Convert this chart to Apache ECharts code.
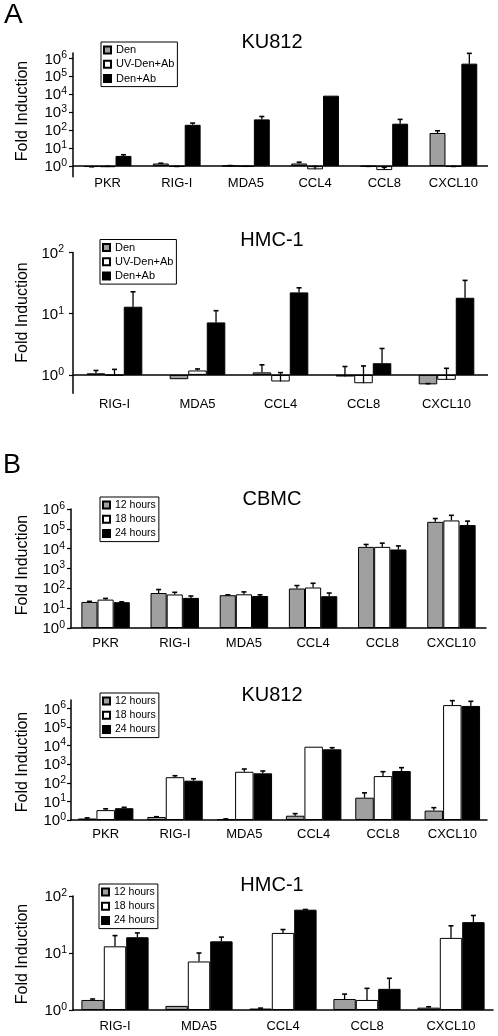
<!DOCTYPE html>
<html>
<head>
<meta charset="utf-8">
<script src="https://cdn.jsdelivr.net/npm/echarts@6/dist/echarts.min.js"></script>
<style>html,body{margin:0;padding:0;background:#fff}#c{width:498px;height:1036px}</style>
</head>
<body>
<div id="c"></div>
<script>
// ---------- DATA ----------
const catsA1 = ['PKR', 'RIG-I', 'MDA5', 'CCL4', 'CCL8', 'CXCL10'];
const catsA2 = ['RIG-I', 'MDA5', 'CCL4', 'CCL8', 'CXCL10'];
const catsB1 = ['PKR', 'RIG-I', 'MDA5', 'CCL4', 'CCL8', 'CXCL10'];
const catsB2 = ['PKR', 'RIG-I', 'MDA5', 'CCL4', 'CCL8', 'CXCL10'];
const catsB3 = ['RIG-I', 'MDA5', 'CCL4', 'CCL8', 'CXCL10'];
const namesA = ['Den', 'UV-Den+Ab', 'Den+Ab'];
const namesB = ['12 hours', '18 hours', '24 hours'];
const yTicksA1 = [1, 10, 100, 1000, 10000, 100000, 1000000];
const yTicksA2 = [1, 10, 100];
const yTicksB1 = [1, 10, 100, 1000, 10000, 100000, 1000000];
const yTicksB2 = [1, 10, 100, 1000, 10000, 100000, 1000000];
const yTicksB3 = [1, 10, 100];

// A: KU812
const a1Den      = [0.9, 1.4, 1.05, 1.4, 0.95, 70];
const a1DenErr   = [0.02, 0.05, 0.02, 0.26, 0.02, 23];
const a1UV       = [0.88, 0.93, 0.95, 0.66, 0.6, 0.93];
const a1UVErr    = [0.1, 0.03, 0.03, 0.3, 0.25, 0.03];
const a1DenAb    = [3.7, 200, 400, 8400, 230, 510000];
const a1DenAbErr = [0.6, 50, 180, 0, 170, 1400000];
// A: HMC-1
const a2Den      = [1.06, 0.85, 1.1, 0.94, 0.70];
const a2DenErr   = [0.12, 0, 0.36, 0.43, 0.02];
const a2UV       = [0.98, 1.18, 0.78, 0.73, 0.83];
const a2UVErr    = [0.25, 0.07, 0.31, 0.67, 0.45];
const a2DenAb    = [13, 7.2, 22.3, 1.55, 18.2];
const a2DenAbErr = [9.8, 4.0, 4.2, 1.15, 16.8];
// B: CBMC
const b1H12    = [20.6, 58, 45, 98, 12300, 225000];
const b1H12Err = [1.5, 29, 2, 40, 4000, 105000];
const b1H18    = [27, 49, 50, 110, 12300, 265000];
const b1H18Err = [4, 14, 16, 70, 6700, 215000];
const b1H24    = [20, 33, 41, 40, 9100, 155000];
const b1H24Err = [1, 8, 6, 18, 4700, 90000];
// B: KU812
const b2H12    = [1.2, 1.45, 1.1, 1.7, 15.8, 3.2];
const b2H12Err = [0.1, 0.05, 0.05, 0.5, 13, 1.4];
const b2H18    = [3.4, 200, 390, 8700, 230, 1500000];
const b2H18Err = [0.6, 40, 160, 0, 165, 1100000];
const b2H24    = [4.3, 130, 323, 6300, 430, 1350000];
const b2H24Err = [0.5, 35, 107, 1400, 220, 1050000];
// B: HMC-1
const b3H12    = [1.5, 1.18, 1.06, 1.56, 1.1];
const b3H12Err = [0.06, 0, 0.02, 0.34, 0.04];
const b3H18    = [13.1, 7.1, 22.5, 1.5, 18.4];
const b3H18Err = [7.1, 2.9, 3.3, 0.9, 11.6];
const b3H24    = [18.9, 16, 57.5, 2.35, 34.8];
const b3H24Err = [3.6, 3, 0.5, 1.25, 10.7];

// ---------- LAYOUT ----------
const FONT = 'Liberation Sans, Arial, sans-serif';
const colors = ['#a0a0a0', '#ffffff', '#000000'];
const panels = [
  { title: 'KU812', cats: catsA1, names: namesA, vals: [a1Den, a1UV, a1DenAb], errs: [a1DenErr, a1UVErr, a1DenAbErr],
    ticks: yTicksA1, grid: { left: 73, top: 53, width: 415, height: 123.7 }, min: 0.257, max: 2000000, gap: 0.31,
    xMargin: 0, yMargin: 6, baseLine: true, titleY: 42, fiY: 111,
    legend: { left: 101, top: 42, fontSize: 11 } },
  { title: 'HMC-1', cats: catsA2, names: namesA, vals: [a2Den, a2UV, a2DenAb], errs: [a2DenErr, a2UVErr, a2DenAbErr],
    ticks: yTicksA2, grid: { left: 73, top: 252.5, width: 415, height: 140.8 }, min: 0.5, max: 100, gap: 0.33,
    xMargin: 5, yMargin: 9, baseLine: true, titleY: 240, fiY: 312.5,
    legend: { left: 100, top: 239.5, fontSize: 11 } },
  { title: 'CBMC', cats: catsB1, names: namesB, vals: [b1H12, b1H18, b1H24], errs: [b1H12Err, b1H18Err, b1H24Err],
    ticks: yTicksB1, grid: { left: 71, top: 509, width: 415, height: 119 }, min: 1, max: 1000000, gap: 0.30,
    xMargin: 9, yMargin: 6, baseLine: false, titleY: 499, fiY: 565,
    legend: { left: 100, top: 497, fontSize: 10.5 } },
  { title: 'KU812', cats: catsB2, names: namesB, vals: [b2H12, b2H18, b2H24], errs: [b2H12Err, b2H18Err, b2H24Err],
    ticks: yTicksB2, grid: { left: 71, top: 700, width: 416, height: 120 }, min: 1, max: 2820000, gap: 0.20,
    xMargin: 8, yMargin: 5, baseLine: false, titleY: 695, fiY: 762,
    legend: { left: 100, top: 693, fontSize: 10.5 } },
  { title: 'HMC-1', cats: catsB3, names: namesB, vals: [b3H12, b3H18, b3H24], errs: [b3H12Err, b3H18Err, b3H24Err],
    ticks: yTicksB3, grid: { left: 73, top: 896, width: 420, height: 114 }, min: 1, max: 100, gap: 0.20,
    xMargin: 10, yMargin: 6, baseLine: false, titleY: 885, fiY: 954,
    legend: { left: 99, top: 884, fontSize: 10.5 } }
];

const grids = [], xAxes = [], yAxes = [], series = [], legends = [], graphics = [];

function supLabel(v) {
  const e = Math.log10(v);
  if (Math.abs(e - Math.round(e)) > 1e-6) return '';
  return '{b|10}{s|' + Math.round(e) + '}';
}

panels.forEach((p, pi) => {
  grids.push(Object.assign({ containLabel: false }, p.grid));
  xAxes.push({
    type: 'category', gridIndex: pi, data: p.cats,
    axisLine: { show: !p.baseLine, onZero: false, lineStyle: { color: '#000', width: 1.5 } },
    axisTick: { show: false },
    axisLabel: { interval: 0, color: '#000', fontSize: 13, fontFamily: FONT, margin: p.xMargin, hideOverlap: false },
    splitLine: { show: false }
  });
  yAxes.push({
    type: 'log', logBase: 10, gridIndex: pi, min: p.min, max: p.max,
    axisLine: { show: true, lineStyle: { color: '#000', width: 1.5 } },
    axisTick: { show: true, length: 4, customValues: p.ticks, lineStyle: { color: '#000', width: 1.2 } },
    splitLine: { show: false },
    axisLabel: {
      customValues: p.ticks, margin: p.yMargin, color: '#000', fontFamily: FONT,
      showMinLabel: true, showMaxLabel: true, hideOverlap: false,
      formatter: supLabel,
      rich: {
        b: { fontSize: 15, fontFamily: FONT, color: '#000', lineHeight: 17, verticalAlign: 'bottom' },
        s: { fontSize: 10.5, fontFamily: FONT, color: '#000', lineHeight: 7, verticalAlign: 'top' }
      }
    }
  });
  p.names.forEach((nm, si) => {
    const s = {
      type: 'bar', name: nm, xAxisIndex: pi, yAxisIndex: pi,
      data: p.vals[si],
      barGap: '0%', barCategoryGap: (p.gap * 100) + '%',
      itemStyle: { color: colors[si], borderColor: '#000', borderWidth: 1 },
      emphasis: { disabled: true }, animation: false
    };
    if (si === 0 && p.baseLine) {
      s.markLine = {
        silent: true, symbol: 'none', label: { show: false }, animation: false,
        lineStyle: { color: '#000', width: 1.5, type: 'solid' },
        data: [{ yAxis: 1 }]
      };
    }
    series.push(s);
    const vals = p.vals[si], errs = p.errs[si], gap = p.gap;
    series.push({
      type: 'custom', name: 'err' + pi + '_' + si, xAxisIndex: pi, yAxisIndex: pi, silent: true, z: 5,
      animation: false,
      data: p.cats.map((c, i) => [i, vals[i], errs[i]]),
      renderItem: (params, api) => {
        const v = api.value(1), e = api.value(2);
        if (!(e > 0)) return;
        const band = api.size([1, 0])[0];
        const bw = band * (1 - gap) / 3;
        const p0 = api.coord([api.value(0), v]);
        const p1 = api.coord([api.value(0), v + e]);
        const x = p0[0] + (si - 1) * bw;
        return { type: 'group', children: [
          { type: 'line', shape: { x1: x, y1: p0[1], x2: x, y2: p1[1] }, style: { stroke: '#000', lineWidth: 1.3 } },
          { type: 'line', shape: { x1: x - 2.5, y1: p1[1], x2: x + 2.5, y2: p1[1] }, style: { stroke: '#000', lineWidth: 1.6 } }
        ] };
      }
    });
  });
  legends.push({
    data: p.names, orient: 'vertical', left: p.legend.left, top: p.legend.top,
    itemWidth: 7, itemHeight: 7, itemGap: 2.3, icon: 'rect',
    padding: [2, 3, 2, 2], borderColor: '#000', borderWidth: 1, backgroundColor: '#fff',
    selectedMode: false,
    textStyle: { fontSize: p.legend.fontSize, fontFamily: FONT, color: '#000', lineHeight: 12 }
  });
  graphics.push({ type: 'text', x: 272, y: p.titleY, style: { text: p.title, fontSize: 20, fontFamily: FONT, fill: '#000', align: 'center', verticalAlign: 'middle' } });
  graphics.push({ type: 'text', x: 22.5, y: p.fiY, rotation: Math.PI / 2, style: { text: 'Fold Induction', fontSize: 16, fontFamily: FONT, fill: '#000', align: 'center', verticalAlign: 'middle' } });
});
graphics.push({ type: 'text', x: 4, y: 15, style: { text: 'A', fontSize: 28, fontFamily: FONT, fill: '#000', align: 'left', verticalAlign: 'middle' } });
graphics.push({ type: 'text', x: 3, y: 466, style: { text: 'B', fontSize: 27, fontFamily: FONT, fill: '#000', align: 'left', verticalAlign: 'middle' } });

const chart = echarts.init(document.getElementById('c'), null, { renderer: 'canvas' });
chart.setOption({
  backgroundColor: '#fff', animation: false,
  grid: grids, xAxis: xAxes, yAxis: yAxes, series: series, legend: legends, graphic: graphics
});
</script>
</body>
</html>
